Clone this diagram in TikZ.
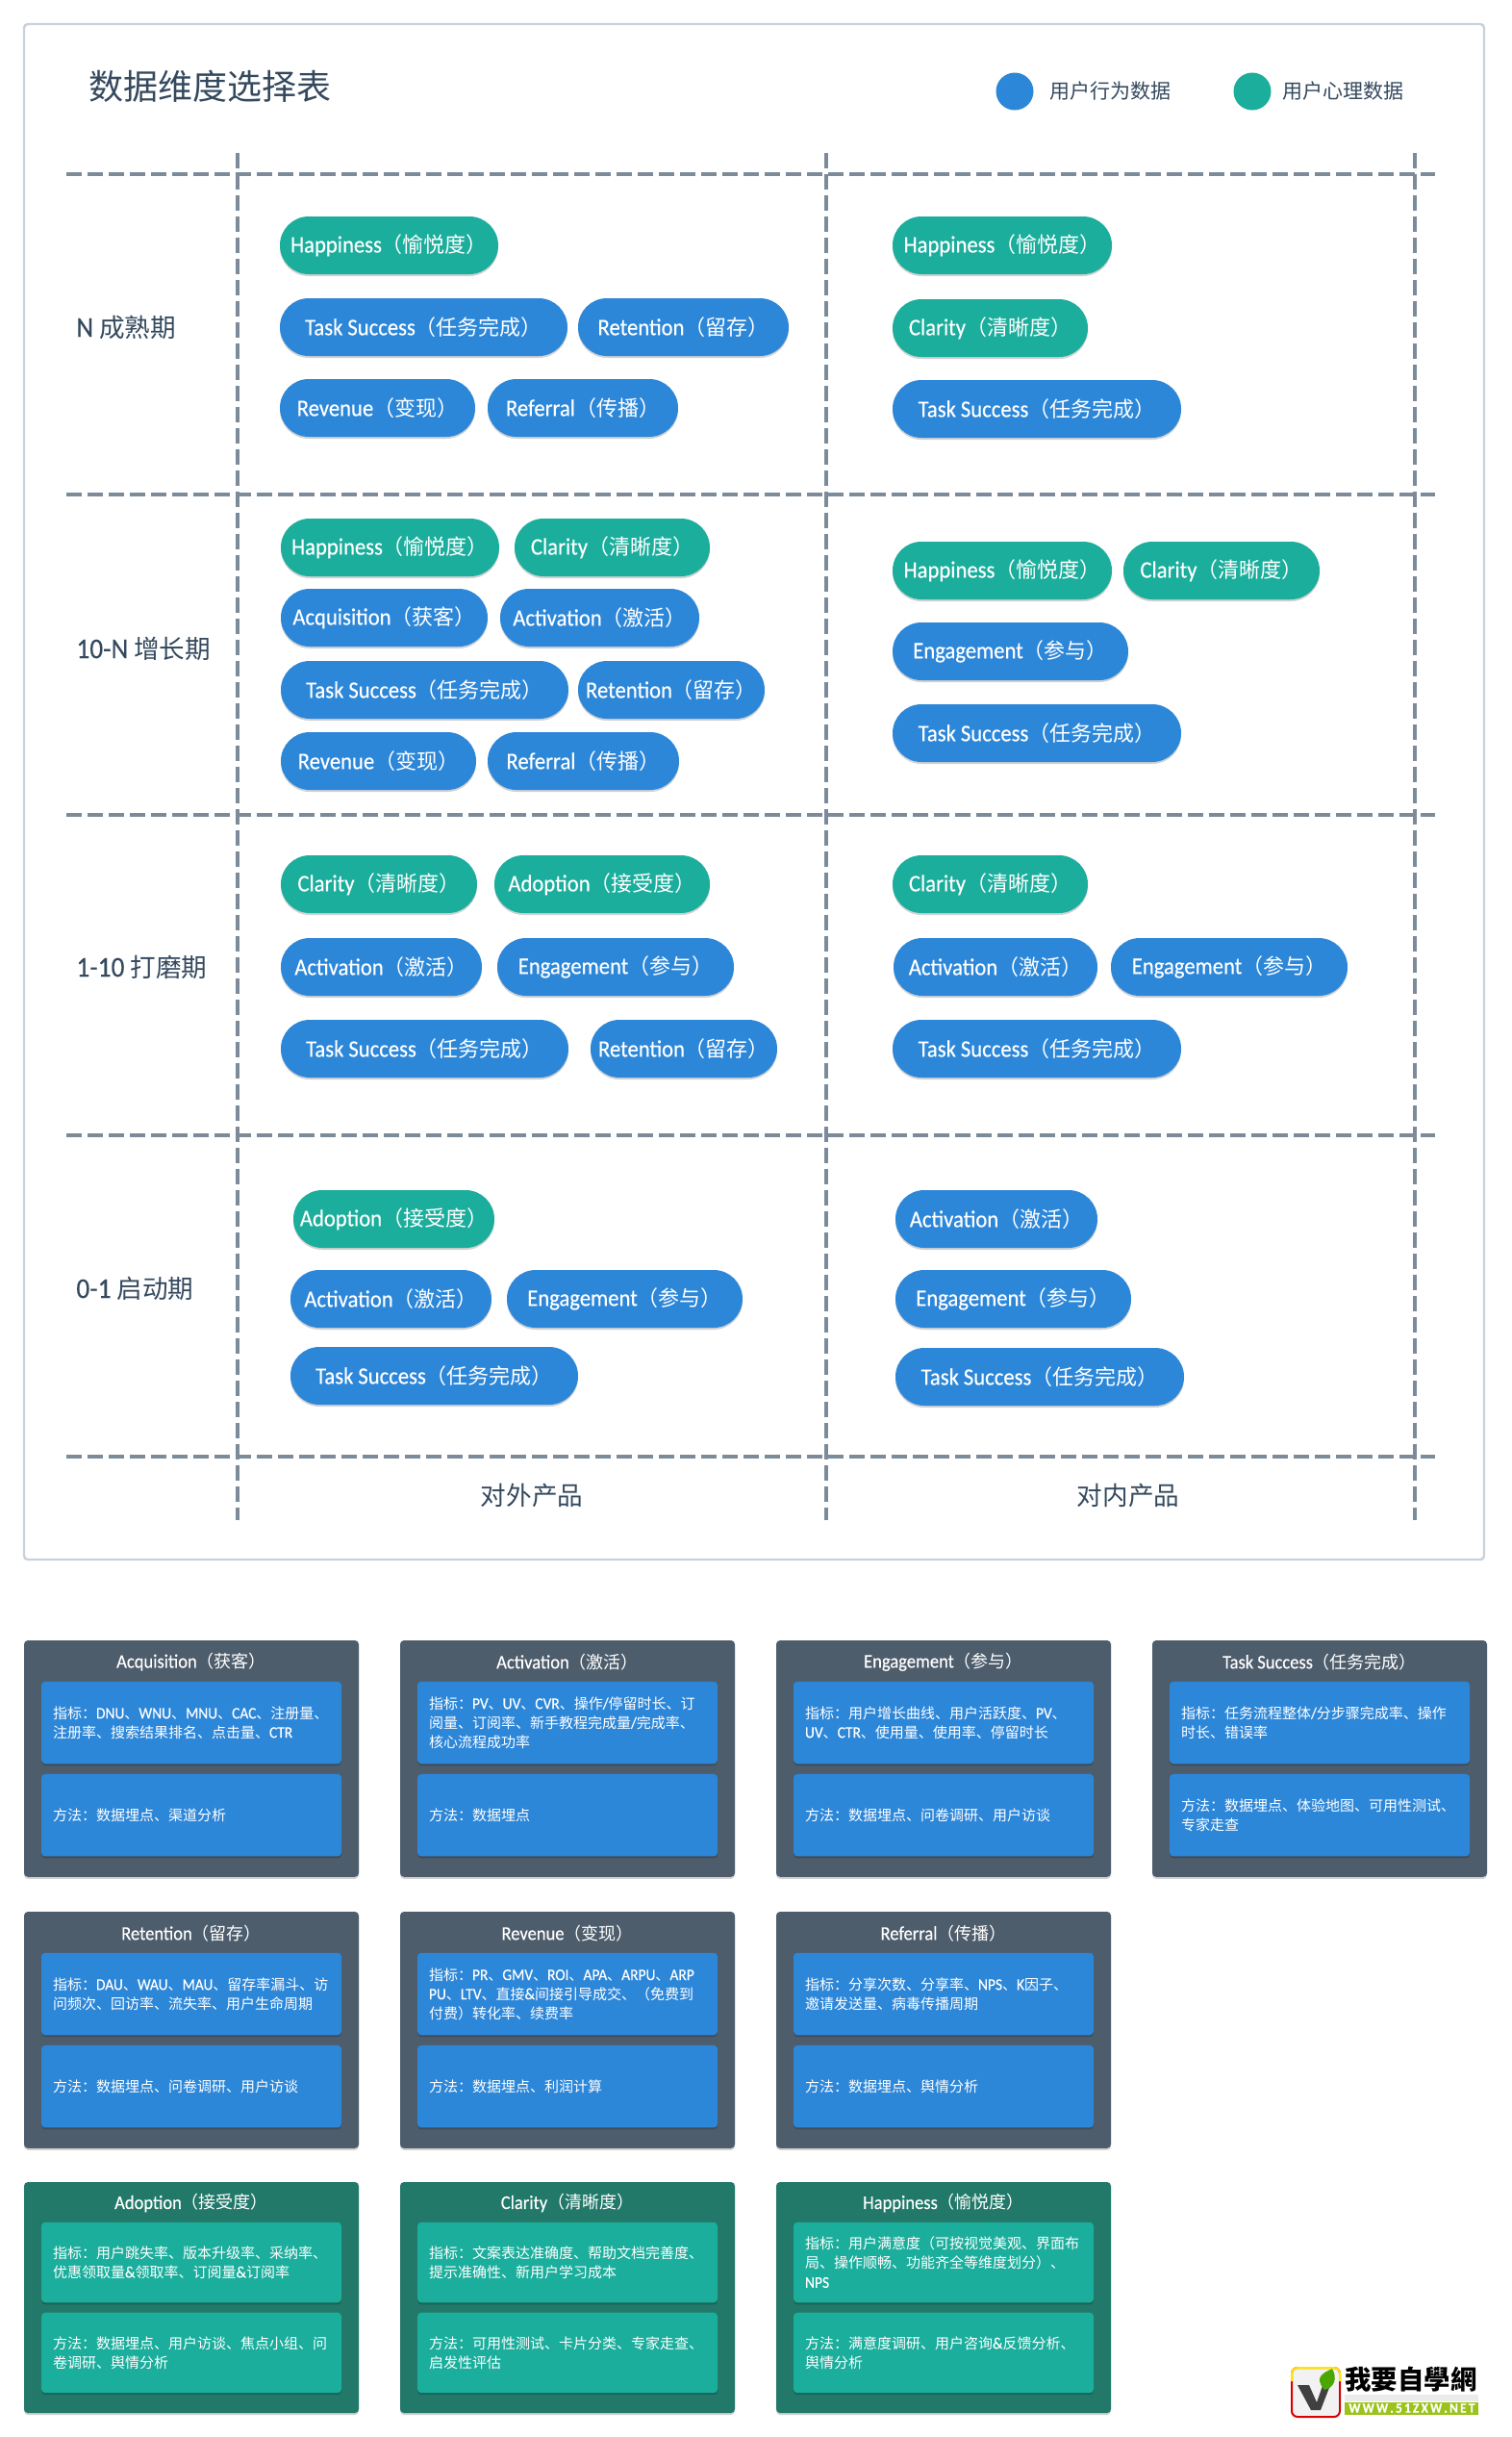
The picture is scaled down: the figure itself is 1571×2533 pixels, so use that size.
\documentclass[tikz,border=0pt]{standalone}
\usepackage{fontspec}
\usepackage{xcolor}
\usetikzlibrary{shadows}
\setmainfont{Noto Sans CJK SC}
\newfontfamily\cjkfont{Noto Sans CJK SC}
\newfontfamily\twfont{Noto Sans CJK TC}
\newfontfamily\latfont[Scale=1.12,FakeStretch=0.92,FakeBold=0.25]{Carlito}
% latin letters and digits go to the narrow face, all the rest stays CJK
\newXeTeXintercharclass\latclass
\XeTeXinterchartokenstate=1
\count255=`A \loop\XeTeXcharclass\count255=\latclass \ifnum\count255<`Z \advance\count255 by 1 \repeat
\count255=`a \loop\XeTeXcharclass\count255=\latclass \ifnum\count255<`z \advance\count255 by 1 \repeat
\count255=`0 \loop\XeTeXcharclass\count255=\latclass \ifnum\count255<`9 \advance\count255 by 1 \repeat
\XeTeXcharclass`\-=\latclass
\XeTeXcharclass`\.=\latclass
\XeTeXcharclass`\/=\latclass
\XeTeXcharclass`\&=\latclass
\XeTeXinterchartoks 0 \latclass = {\latfont}
\XeTeXinterchartoks 4095 \latclass = {\latfont}
\XeTeXinterchartoks \latclass 0 = {\cjkfont}
\XeTeXinterchartoks \latclass 4095 = {\cjkfont}
\definecolor{behav}{HTML}{2D87D9}
\definecolor{psych}{HTML}{1BAE9C}
\definecolor{slatebg}{HTML}{4E5D6C}
\definecolor{pinebg}{HTML}{22796A}
\definecolor{gridline}{HTML}{7C8B9A}
\definecolor{framegray}{HTML}{C8D2DC}
\definecolor{inkdark}{HTML}{34495E}
\tikzset{
  softshadow/.style={drop shadow={shadow xshift=0pt, shadow yshift=-1pt, opacity=0.18, fill=black}},
  pill/.style={rectangle, rounded corners=15pt, minimum height=30pt, inner sep=0pt, text=white,
               font=\fontsize{11}{13}\selectfont, softshadow},
  cardbox/.style={rectangle, rounded corners=2pt, inner sep=0pt, softshadow},
  itembox/.style={cardbox, text=white, align=left},
  rowlabel/.style={anchor=west, inner sep=0pt, text=inkdark, font=\fontsize{13.3}{15}\selectfont},
  legendlabel/.style={anchor=west, inner sep=0pt, text=inkdark, font=\fontsize{10.5}{12}\selectfont},
  griddash/.style={gridline, line width=2pt, dash pattern=on 8pt off 3pt}
}

\begin{document}
\begin{tikzpicture}[x=0.5pt, y=-0.5pt]
    \useasboundingbox (0,0) rectangle (1571,2533);
    \fill[white] (0,0) rectangle (1571,2533);
    \draw[framegray, line width=1.2pt, rounded corners=2pt] (25,25) rectangle (1543,1621);
    \node[anchor=west, inner sep=0pt, text=inkdark, font=\fontsize{18}{20}\selectfont] (title) at (92,90) {数据维度选择表};
    % legend
    \fill[behav] (1055,95) circle (9.75pt);
    \fill[psych] (1302,95) circle (9.75pt);
    \node[legendlabel] (legendbehav) at (1091,95) {用户行为数据};
    \node[legendlabel] (legendpsych) at (1333,95) {用户心理数据};
    % table grid
    \foreach \y in {181, 514, 847, 1180, 1514}
      \draw[griddash] (69,\y) -- (1492,\y);
    \foreach \x in {247, 859, 1471}
      \draw[griddash] (\x,159) -- (\x,1580);
    \foreach \y/\name/\lab in {340/mature/N 成熟期, 674/growth/10-N 增长期, 1005/polish/1-10 打磨期, 1339/launch/0-1 启动期}
      \node[rowlabel] (row-\name) at (79,\y) {\lab};
    \node[text=inkdark, inner sep=0pt, font=\fontsize{13.3}{15}\selectfont] (colouter) at (553,1554) {对外产品};
    \node[text=inkdark, inner sep=0pt, font=\fontsize{13.3}{15}\selectfont] (colinner) at (1173,1554) {对内产品};
    % pills
    \foreach \xa/\xb/\y/\col/\lab [count=\i] in {
      291/518/255/psych/Happiness（愉悦度）, 291/590/340/behav/Task Success（任务完成）, 601/820/340/behav/Retention（留存）,
      291/494/424/behav/Revenue（变现）, 507/705/424/behav/Referral（传播）,
      292/519/569/psych/Happiness（愉悦度）, 535/738/569/psych/Clarity（清晰度）,
      292/507/642/behav/Acquisition（获客）, 520/727/642/behav/Activation（激活）,
      292/591/717/behav/Task Success（任务完成）, 601/795/717/behav/Retention（留存）,
      292/495/791/behav/Revenue（变现）, 507/706/791/behav/Referral（传播）,
      292/496/919/psych/Clarity（清晰度）, 514/738/919/psych/Adoption（接受度）,
      292/501/1005/behav/Activation（激活）, 517/763/1005/behav/Engagement（参与）,
      292/591/1090/behav/Task Success（任务完成）, 614/808/1090/behav/Retention（留存）,
      305/514/1267/psych/Adoption（接受度）,
      302/511/1350/behav/Activation（激活）, 527/772/1350/behav/Engagement（参与）,
      302/601/1430/behav/Task Success（任务完成）,
      928/1156/255/psych/Happiness（愉悦度）, 928/1131/341/psych/Clarity（清晰度）, 928/1228/425/behav/Task Success（任务完成）,
      928/1156/593/psych/Happiness（愉悦度）, 1168/1372/593/psych/Clarity（清晰度）,
      928/1173/677/behav/Engagement（参与）, 928/1228/762/behav/Task Success（任务完成）,
      928/1131/919/psych/Clarity（清晰度）,
      929/1141/1005/behav/Activation（激活）, 1155/1401/1005/behav/Engagement（参与）, 928/1228/1090/behav/Task Success（任务完成）,
      931/1141/1267/behav/Activation（激活）, 931/1176/1350/behav/Engagement（参与）, 931/1231/1431/behav/Task Success（任务完成）}
      \node[pill, fill=\col, minimum width={(\xb-\xa)*0.5pt}] (pill-\i) at ({(\xa+\xb)/2},\y) {\lab};
    % metric cards
    \foreach \nm/\x/\ty/\hh/\dk/\lt/\hd/\ma/\mb in {
      acq/25/1705/85.5/slatebg/behav/Acquisition（获客）/{指标：DNU、WNU、MNU、CAC、注册量、\\注册率、搜索结果排名、点击量、CTR}/{方法：数据埋点、渠道分析},
      act/416/1705/85.5/slatebg/behav/Activation（激活）/{指标：PV、UV、CVR、操作/停留时长、订\\阅量、订阅率、新手教程完成量/完成率、\\核心流程成功率}/{方法：数据埋点},
      eng/807/1705/85.5/slatebg/behav/Engagement（参与）/{指标：用户增长曲线、用户活跃度、PV、\\UV、CTR、使用量、使用率、停留时长}/{方法：数据埋点、问卷调研、用户访谈},
      tsk/1198/1705/85.5/slatebg/behav/Task Success（任务完成）/{指标：任务流程整体/分步骤完成率、操作\\时长、错误率}/{方法：数据埋点、体验地图、可用性测试、\\专家走查},
      ret/25/1987/85.5/slatebg/behav/Retention（留存）/{指标：DAU、WAU、MAU、留存率漏斗、访\\问频次、回访率、流失率、用户生命周期}/{方法：数据埋点、问卷调研、用户访谈},
      rev/416/1987/85.5/slatebg/behav/Revenue（变现）/{指标：PR、GMV、ROI、APA、ARPU、ARP\\PU、LTV、直接\&间接引导成交、（免费到\\付费）转化率、续费率}/{方法：数据埋点、利润计算},
      rfl/807/1987/85.5/slatebg/behav/Referral（传播）/{指标：分享次数、分享率、NPS、K因子、\\邀请发送量、病毒传播周期}/{方法：数据埋点、舆情分析},
      ado/25/2268/83.5/pinebg/psych/Adoption（接受度）/{指标：用户跳失率、版本升级率、采纳率、\\优惠领取量\&领取率、订阅量\&订阅率}/{方法：数据埋点、用户访谈、焦点小组、问\\卷调研、舆情分析},
      cla/416/2268/83.5/pinebg/psych/Clarity（清晰度）/{指标：文案表达准确度、帮助文档完善度、\\提示准确性、新用户学习成本}/{方法：可用性测试、卡片分类、专家走查、\\启发性评估},
      hap/807/2268/83.5/pinebg/psych/Happiness（愉悦度）/{指标：用户满意度（可按视觉美观、界面布\\局、操作顺畅、功能齐全等维度划分）、\\NPS}/{方法：满意度调研、用户咨询\&反馈分析、\\舆情分析}}
    {
      \pgfmathsetmacro\ya{\ty+\hh/2}
      \pgfmathsetmacro\yb{\ya+\hh+\hh/8}
      \pgfmathsetmacro\yend{\yb+\hh+\hh/4}
      \node[cardbox, fill=\dk, minimum width=174pt, minimum height={(\yend-\ty)*0.5pt}] (card-\nm) at ({\x+174},{(\ty+\yend)/2}) {};
      \node[text=white, inner sep=0pt, font=\fontsize{9}{11}\selectfont] (head-\nm) at ({\x+174},{(\ty+\ya)/2+1}) {\hd};
      \node[itembox, fill=\lt, text width=144pt, inner xsep=6pt, minimum height={\hh*0.5pt},
            font=\fontsize{7.5}{10}\selectfont] (metric-\nm) at ({\x+174},{\ya+\hh/2}) {\ma};
      \node[itembox, fill=\lt, text width=144pt, inner xsep=6pt, minimum height={\hh*0.5pt},
            font=\fontsize{7.5}{10}\selectfont] (method-\nm) at ({\x+174},{\yb+\hh/2}) {\mb};
    }
    % site mark, bottom right
    \draw[red!85!black, line width=1pt, fill=black!5, rounded corners=3pt] (1343,2461) rectangle (1393,2512);
    \draw[yellow!90!orange, line width=1pt, rounded corners=3pt] (1343,2475) |- (1393,2461) -- (1393,2475);
    \fill[black!75] (1349,2479) -- (1361,2479) -- (1369,2497) -- (1377,2474) -- (1385,2474) -- (1373,2505) -- (1363,2505) -- cycle;
    \fill[green!50!black!70!yellow] (1377,2484) .. controls (1365,2470) and (1377,2466) .. (1385,2462) .. controls (1391,2472) and (1387,2482) .. (1377,2484);
    \node[inner sep=0pt, anchor=west, text=black, font=\fontsize{13.7}{15}\selectfont\bfseries\twfont] (marktitle) at (1398,2473) {我要自學網};
    \fill[black!8] (1398,2489) rectangle (1537,2496);
    \node[rectangle, fill={rgb,255:red,155;green,195;blue,28}, text=white, inner sep=0pt, minimum width=69.5pt, minimum height=6.5pt,
          font=\fontsize{6.5}{7}\selectfont\bfseries, anchor=west] (markurl) at (1398,2503) {W\,W\,W\,.\,5\,1\,Z\,X\,W\,.\,N\,E\,T};
  \end{tikzpicture}
\end{document}
